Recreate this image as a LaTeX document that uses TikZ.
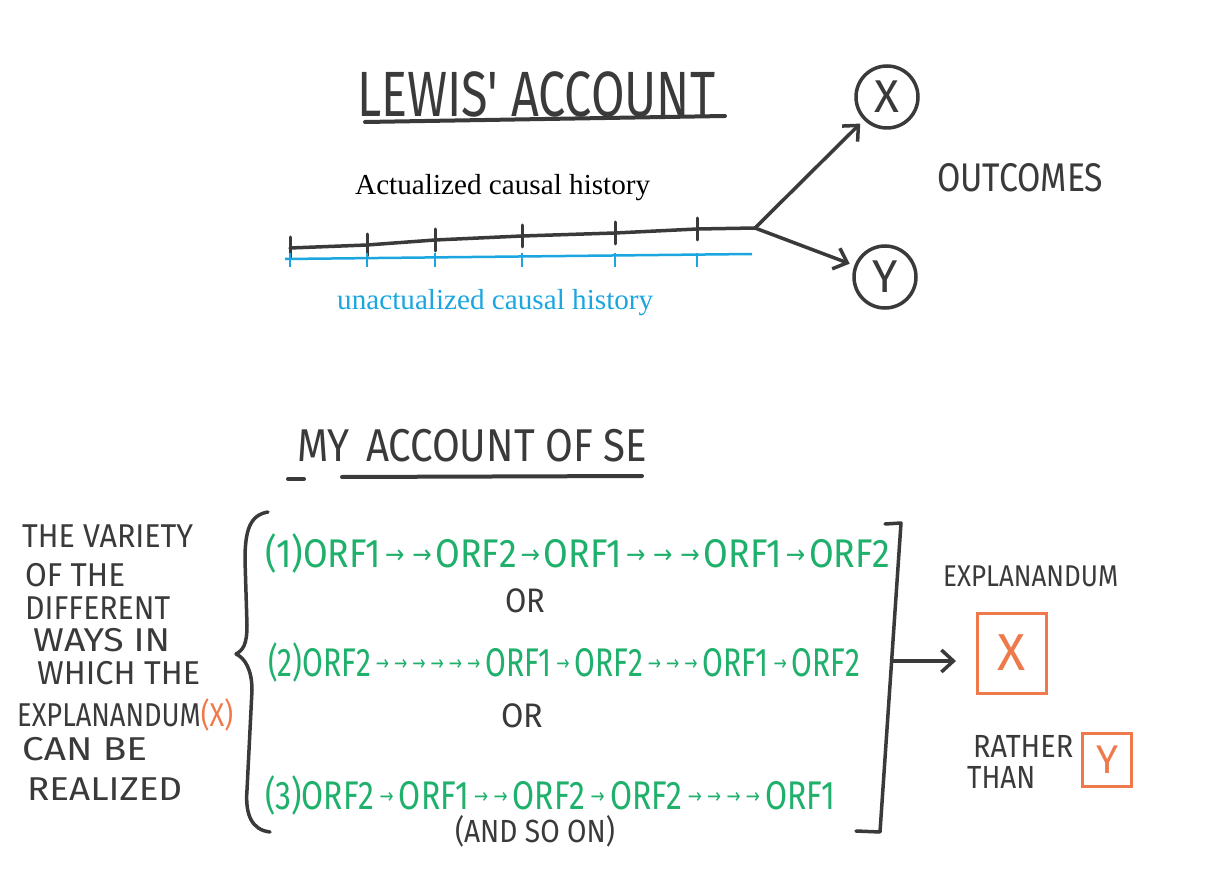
\documentclass[tikz,border=0pt]{standalone}
\usepackage{fontspec}
\setmainfont{Liberation Serif}
\newfontfamily\hand{Fira Sans}
\newfontfamily\arr{DejaVu Sans}
\usetikzlibrary{arrows.meta,calc}
\definecolor{ink}{HTML}{3A3A3A}
\definecolor{grn}{HTML}{1FB06C}
\definecolor{org}{HTML}{EE7A4C}
\definecolor{blu}{HTML}{1BA6E0}
\newcommand{\ra}{{\arr\fontsize{26}{26}\selectfont\,\raisebox{4pt}{→}\,}}
\newcommand{\rs}{{\arr\fontsize{21}{21}\selectfont\raisebox{6pt}{→}}}
\newcommand{\fitw}[2]{\resizebox{#1pt}{\height}{#2}}
\begin{document}
\begin{tikzpicture}[x=1pt,y=-1pt,
  hw/.style={text=ink, inner sep=0pt, font={\hand\fontsize{#1}{#1}\selectfont}},
  gl/.style={text=grn, inner sep=0pt, anchor=base west, font={\hand\fontsize{40}{40}\selectfont}},
  pen/.style={draw=ink, line width=3.5pt, line cap=round, line join=round},
  barb/.style={-{Straight Barb[length=12pt,width=22pt,line width=3.5pt]}},
  obox/.style={draw=org, line width=3pt, inner sep=0pt, text=org},
  ocirc/.style={circle, draw=ink, line width=3.5pt, minimum size=62pt, inner sep=0pt, text=ink, font={\hand\fontsize{46}{46}\selectfont}}]
\useasboundingbox (0,0) rectangle (1208,877);
\fill[white] (0,0) rectangle (1208,877);

% ---- Lewis' account
\node[hw=64, anchor=base west] (t1) at (357,117) {\fitw{358}{LEWIS' ACCOUNT}};
\draw[pen, line width=4pt] (365,122) -- (725,116);

\node[ocirc] (X) at (887,97) {X};
\node[ocirc] (Y) at (885,277) {Y};
\node[hw=40, anchor=base west] (out) at (937,192) {\fitw{166}{OUTCOMES}};

\coordinate (a1) at (290,248);
\coordinate (a2) at (367,245);
\coordinate (a3) at (435,240);
\coordinate (a4) at (522,236);
\coordinate (a5) at (615,233);
\coordinate (a6) at (697,229);
\coordinate (br) at (755,228);
\draw[pen] (a1) -- (a2) -- (a3) -- (a4) -- (a5) -- (a6) -- (br);
\foreach \p in {a1,a2,a3,a4,a5,a6}
  \draw[pen, line width=3pt] ($(\p)+(0,-11)$) -- ($(\p)+(0,11)$);
\draw[pen, barb, shorten >=5pt] (br) -- (X);
\draw[pen, barb, shorten >=5pt] (br) -- (Y);

\coordinate (b1) at (285,259);
\coordinate (b2) at (752,254);
\draw[blu, line width=2.5pt] (b1) -- (b2);
\foreach \x in {290,367,435,522,615,697}
  \draw[blu, line width=2pt] (\x,253) -- (\x,267);

\node[inner sep=0pt, anchor=base west, font=\fontsize{29}{29}\selectfont] (act) at (355,195) {\fitw{295}{Actualized causal history}};
\node[inner sep=0pt, anchor=base west, text=blu, font=\fontsize{29}{29}\selectfont] (unact) at (337,310) {\fitw{316}{unactualized causal history}};

% ---- My account
\node[hw=46, anchor=base west] (t2) at (297,461) {\fitw{350}{MY\hspace{0.4em}ACCOUNT OF SE}};
\draw[pen, line width=4pt] (288,479) -- (304,479);
\draw[pen, line width=4pt] (342,477) -- (642,476);

\node[hw=33, anchor=base west] (l1) at (22,547) {\fitw{171}{THE VARIETY}};
\node[hw=33, anchor=base west] (l2) at (25,586) {\fitw{100}{OF THE}};
\node[hw=33, anchor=base west] (l3) at (25,619) {\fitw{145}{DIFFERENT}};
\node[hw=33, anchor=base west] (l4) at (33,651) {\fitw{137}{WAYS IN}};
\node[hw=33, anchor=base west] (l5) at (37,684) {\fitw{163}{WHICH THE}};
\node[hw=33, anchor=base west] (l6) at (17,726) {\fitw{216}{EXPLANANDUM\textcolor{org}{(X)}}};
\node[hw=33, anchor=base west] (l7) at (22,760) {\fitw{125}{CAN BE}};
\node[hw=33, anchor=base west] (l8) at (27,800) {\fitw{155}{REALIZED}};

\draw[pen] (268,512) .. controls (250,515) and (245,530) .. (245,560) -- (247,625)
  .. controls (247,645) and (243,650) .. (236,654)
  .. controls (245,658) and (252,670) .. (252,690) -- (247,790)
  .. controls (245,815) and (252,830) .. (270,832);

\node[gl] (g1) at (265,567) {\fitw{625}{(1)ORF1\ra\ra ORF2\ra ORF1\ra\ra\ra ORF1\ra ORF2}};
\node[hw=34] (or1) at (525,601) {\fitw{40}{OR}};
\node[gl] (g2) at (268,676) {\fitw{592}{(2)ORF2\,\rs\,\rs\,\rs\,\rs\,\rs\,\rs\,ORF1\,\rs\,ORF2\,\rs\,\rs\,\rs\,ORF1\,\rs\,ORF2}};
\node[hw=34] (or2) at (522,716) {\fitw{42}{OR}};
\node[gl] (g3) at (265,809) {\fitw{570}{(3)ORF2\,\rs\,ORF1\,\rs\,\rs\,ORF2\,\rs\,ORF2\,\rs\,\rs\,\rs\,\rs\,ORF1}};
\node[hw=32] (soon) at (535,831) {\fitw{160}{(AND SO ON)}};

\coordinate (k1) at (885,524);
\coordinate (k2) at (901,523);
\coordinate (k3) at (880,832);
\coordinate (k4) at (856,831);
\draw[pen] (k1) -- (k2) -- (k3) -- (k4);
\coordinate (bm) at (893,661);

\node[hw=30, anchor=base west] (expl) at (943,586) {\fitw{175}{EXPLANANDUM}};
\node[obox, minimum width=69pt, minimum height=80pt, font={\hand\fontsize{52}{52}\selectfont}] (bx) at (1012,653) {X};
\draw[pen, barb] (bm) -- ($(bx.west)+(-20,8)$);
\node[hw=32, anchor=base west] (rt1) at (973,757) {\fitw{100}{RATHER}};
\node[hw=32, anchor=base west] (rt2) at (967,788) {\fitw{68}{THAN}};
\node[obox, minimum width=49pt, minimum height=53pt, font={\hand\fontsize{40}{40}\selectfont}] (by) at (1107,760) {Y};
\end{tikzpicture}
\end{document}
